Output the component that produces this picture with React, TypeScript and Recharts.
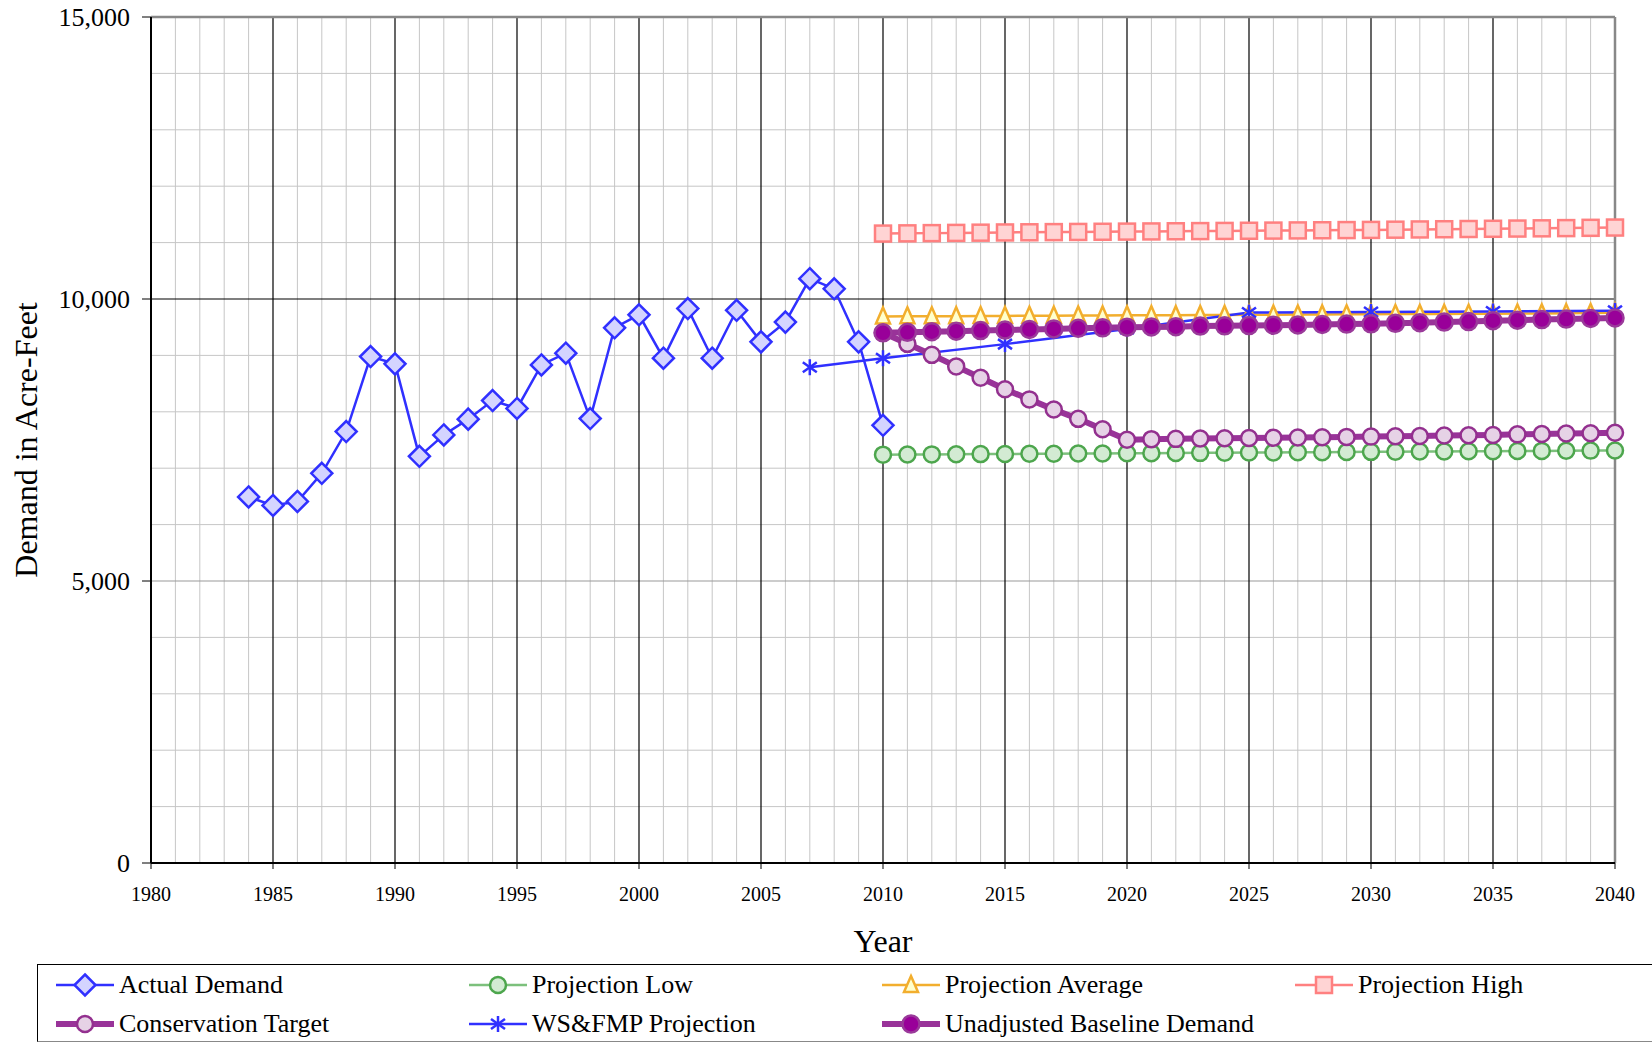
import { LineChart, Line, XAxis, YAxis, ReferenceLine } from "recharts";

// ---- data (acre-feet), read off the reference ----
const actualYears = [
  1984, 1985, 1986, 1987, 1988, 1989, 1990, 1991, 1992, 1993, 1994, 1995, 1996, 1997,
  1998, 1999, 2000, 2001, 2002, 2003, 2004, 2005, 2006, 2007, 2008, 2009, 2010,
];
const actualDemand = [
  6490, 6340, 6410, 6910, 7650, 8980, 8850, 7210, 7590, 7870, 8200, 8060, 8830, 9040,
  7880, 9490, 9720, 8950, 9830, 8950, 9800, 9240, 9590, 10360, 10180, 9240, 7760,
];

const projYears = [
  2010, 2011, 2012, 2013, 2014, 2015, 2016, 2017, 2018, 2019, 2020, 2021, 2022, 2023, 2024,
  2025, 2026, 2027, 2028, 2029, 2030, 2031, 2032, 2033, 2034, 2035, 2036, 2037, 2038, 2039, 2040,
];
const projLow = [
  7240, 7242, 7245, 7247, 7250, 7252, 7255, 7257, 7260, 7262, 7265, 7267, 7270, 7272, 7275,
  7277, 7280, 7282, 7285, 7287, 7290, 7292, 7295, 7297, 7300, 7302, 7305, 7307, 7310, 7312, 7315,
];
const projAvg = [
  9690, 9692, 9694, 9696, 9698, 9700, 9702, 9704, 9706, 9708, 9710, 9712, 9714, 9716, 9718,
  9720, 9722, 9724, 9726, 9728, 9730, 9732, 9734, 9736, 9738, 9740, 9742, 9745, 9748, 9751, 9755,
];
const projHigh = [
  11160, 11164, 11168, 11172, 11176, 11180, 11183, 11186, 11189, 11192, 11195, 11198, 11201, 11204, 11207,
  11210, 11213, 11216, 11219, 11222, 11225, 11229, 11233, 11237, 11241, 11245, 11249, 11253, 11257, 11262, 11267,
];
const conservation = [
  9400, 9205, 9010, 8805, 8605, 8400, 8220, 8040, 7875, 7690, 7505, 7515, 7520, 7525, 7530,
  7535, 7540, 7545, 7550, 7555, 7560, 7565, 7570, 7580, 7585, 7590, 7600, 7605, 7615, 7620, 7630,
];
const baseline = [
  9400, 9410, 9420, 9430, 9440, 9450, 9460, 9470, 9480, 9490, 9500, 9505, 9510, 9520, 9525,
  9530, 9535, 9540, 9550, 9555, 9560, 9570, 9580, 9590, 9600, 9615, 9625, 9635, 9645, 9655, 9665,
];

const wsYears = [2007, 2010, 2015, 2020, 2025, 2030, 2035, 2040];
const wsProjection = [8790, 8950, 9200, 9470, 9760, 9770, 9780, 9790];

const xTicks = [1980, 1985, 1990, 1995, 2000, 2005, 2010, 2015, 2020, 2025, 2030, 2035, 2040];
const yTicks = [0, 5000, 10000, 15000];
const minorYears = Array.from({ length: 59 }, (_, i) => 1981 + i).filter((y) => y % 5 !== 0);
const majorYears = [1985, 1990, 1995, 2000, 2005, 2010, 2015, 2020, 2025, 2030, 2035];
const minorLevels = [1000, 2000, 3000, 4000, 6000, 7000, 8000, 9000, 11000, 12000, 13000, 14000];

const FONT = '"Liberation Serif", "Times New Roman", serif';

const rows = (years: number[], values: number[]) =>
  years.map((year, i) => ({ year, value: values[i] }));

// ---- marker shapes ----
const diamond = (p: any) => {
  const { cx, cy, index } = p;
  if (cx == null || cy == null) return <g key={index} />;
  const r = 10.5;
  return (
    <polygon
      key={index}
      points={`${cx},${cy - r} ${cx + r},${cy} ${cx},${cy + r} ${cx - r},${cy}`}
      fill="#d4d4ff"
      stroke="#3030ff"
      strokeWidth={2.5}
    />
  );
};

const circle = (fill: string, stroke: string, r: number) => (p: any) => {
  const { cx, cy, index } = p;
  if (cx == null || cy == null) return <g key={index} />;
  return <circle key={index} cx={cx} cy={cy} r={r} fill={fill} stroke={stroke} strokeWidth={2.5} />;
};

const triangle = (p: any) => {
  const { cx, cy, index } = p;
  if (cx == null || cy == null) return <g key={index} />;
  return (
    <polygon
      key={index}
      points={`${cx},${cy - 9} ${cx + 7},${cy + 7} ${cx - 7},${cy + 7}`}
      fill="#ffffcc"
      stroke="#f2ae2e"
      strokeWidth={2.5}
    />
  );
};

const square = (p: any) => {
  const { cx, cy, index } = p;
  if (cx == null || cy == null) return <g key={index} />;
  return (
    <rect
      key={index}
      x={cx - 8}
      y={cy - 8}
      width={16}
      height={16}
      fill="#ffd4d4"
      stroke="#ff8080"
      strokeWidth={2.5}
    />
  );
};

const star = (p: any) => {
  const { cx, cy, index } = p;
  if (cx == null || cy == null) return <g key={index} />;
  return (
    <g key={index} stroke="#3030ff" strokeWidth={2.5}>
      <line x1={cx} y1={cy - 8} x2={cx} y2={cy + 8} />
      <line x1={cx - 7} y1={cy - 5} x2={cx + 7} y2={cy + 5} />
      <line x1={cx - 7} y1={cy + 5} x2={cx + 7} y2={cy - 5} />
    </g>
  );
};

const lowDot = circle("#d3ebd3", "#4da64d", 8);
const consDot = circle("#e6d2e6", "#93308f", 8);
const baseDot = circle("#990099", "#9a3a9a", 8.5);

// ---- legend ----
const legendItems = [
  { name: "Actual Demand", color: "#3030ff", width: 2.5, dot: diamond },
  { name: "Projection Low", color: "#7cc07c", width: 2.5, dot: lowDot },
  { name: "Projection Average", color: "#f2ae2e", width: 2.5, dot: triangle },
  { name: "Projection High", color: "#ff8080", width: 2.5, dot: square },
  { name: "Conservation Target", color: "#993399", width: 6, dot: consDot },
  { name: "WS&FMP Projection", color: "#3030ff", width: 2.5, dot: star },
  { name: "Unadjusted Baseline Demand", color: "#993399", width: 6, dot: baseDot },
];

function ChartLegend() {
  return (
    <div
      style={{
        position: "absolute",
        left: 37,
        top: 964,
        width: 1640,
        height: 76,
        borderTop: "1.5px solid #000",
        borderLeft: "1.5px solid #000",
        borderBottom: "1.5px solid #888",
        fontFamily: FONT,
        fontSize: 26,
        color: "#000",
      }}
    >
      {legendItems.map((it, i) => {
        const col = i % 4;
        const row = Math.floor(i / 4);
        return (
          <div
            key={it.name}
            style={{
              position: "absolute",
              left: 18 + col * 413,
              top: 20 + row * 39 - 15,
              height: 30,
              display: "flex",
              alignItems: "center",
              whiteSpace: "nowrap",
            }}
          >
            <svg width={60} height={30} style={{ marginRight: 3 }}>
              <line x1={0} y1={15} x2={58} y2={15} stroke={it.color} strokeWidth={it.width} />
              {it.dot({ cx: 29, cy: 15, index: 0 })}
            </svg>
            <span style={{ lineHeight: "30px" }}>{it.name}</span>
          </div>
        );
      })}
    </div>
  );
}

export default function App() {
  return (
    <div
      style={{
        position: "absolute",
        left: 0,
        top: 0,
        width: 1652,
        height: 1043,
        background: "#fff",
        fontFamily: FONT,
      }}
    >
      <LineChart
        width={1652}
        height={1043}
        margin={{ top: 17, right: 37, bottom: 80, left: 0 }}
        style={{ fontFamily: FONT }}
      >
        <XAxis
          type="number"
          dataKey="year"
          domain={[1980, 2040]}
          ticks={xTicks}
          allowDuplicatedCategory={false}
          height={100}
          axisLine={{ stroke: "#000", strokeWidth: 2 }}
          tickLine={{ stroke: "#000" }}
          tickSize={6}
          tickMargin={18}
          tick={{ fill: "#000", fontSize: 20, fontFamily: FONT }}
          label={{
            value: "Year",
            position: "insideBottom",
            offset: 11,
            style: { fill: "#000", fontSize: 32, fontFamily: FONT },
          }}
        />
        <YAxis
          type="number"
          domain={[0, 15000]}
          ticks={yTicks}
          width={151}
          axisLine={{ stroke: "#000", strokeWidth: 2 }}
          tickLine={{ stroke: "#000" }}
          tickSize={9}
          tickMargin={12}
          tick={{ fill: "#000", fontSize: 26, fontFamily: FONT }}
          tickFormatter={(v: number) => v.toLocaleString("en-US")}
          label={{
            value: "Demand in Acre-Feet",
            angle: -90,
            position: "insideLeft",
            offset: 26,
            style: { fill: "#000", fontSize: 32, fontFamily: FONT, textAnchor: "middle" },
          }}
        />

        {minorYears.map((y) => (
          <ReferenceLine key={`mx${y}`} x={y} stroke="#c6c6c6" strokeWidth={1} zIndex={-10} />
        ))}
        {minorLevels.map((v) => (
          <ReferenceLine key={`my${v}`} y={v} stroke="#c6c6c6" strokeWidth={1} zIndex={-10} />
        ))}
        <ReferenceLine y={5000} stroke="#999" strokeWidth={1} zIndex={-9} />
        {majorYears.map((y) => (
          <ReferenceLine key={`Mx${y}`} x={y} stroke="#000" strokeWidth={1.2} zIndex={-8} />
        ))}
        <ReferenceLine y={10000} stroke="#000" strokeWidth={1.2} zIndex={-8} />
        <ReferenceLine y={15000} stroke="#888" strokeWidth={2.5} zIndex={-8} />
        <ReferenceLine x={2040} stroke="#888" strokeWidth={2.5} zIndex={-8} />

        <Line
          data={rows(actualYears, actualDemand)}
          dataKey="value"
          name="Actual Demand"
          stroke="#3030ff"
          strokeWidth={2.5}
          dot={diamond}
          activeDot={false}
          isAnimationActive={false}
        />
        <Line
          data={rows(projYears, projLow)}
          dataKey="value"
          name="Projection Low"
          stroke="#7cc07c"
          strokeWidth={2.5}
          dot={lowDot}
          activeDot={false}
          isAnimationActive={false}
        />
        <Line
          data={rows(projYears, projHigh)}
          dataKey="value"
          name="Projection High"
          stroke="#ff8080"
          strokeWidth={2.5}
          dot={square}
          activeDot={false}
          isAnimationActive={false}
        />
        <Line
          data={rows(projYears, projAvg)}
          dataKey="value"
          name="Projection Average"
          stroke="#f2ae2e"
          strokeWidth={2.5}
          dot={triangle}
          activeDot={false}
          isAnimationActive={false}
        />
        <Line
          data={rows(wsYears, wsProjection)}
          dataKey="value"
          name="WS&FMP Projection"
          stroke="#3030ff"
          strokeWidth={2.5}
          dot={star}
          activeDot={false}
          isAnimationActive={false}
        />
        <Line
          data={rows(projYears, conservation)}
          dataKey="value"
          name="Conservation Target"
          stroke="#993399"
          strokeWidth={6}
          dot={consDot}
          activeDot={false}
          isAnimationActive={false}
        />
        <Line
          data={rows(projYears, baseline)}
          dataKey="value"
          name="Unadjusted Baseline Demand"
          stroke="#993399"
          strokeWidth={6}
          dot={baseDot}
          activeDot={false}
          isAnimationActive={false}
        />
      </LineChart>
      <ChartLegend />
    </div>
  );
}
